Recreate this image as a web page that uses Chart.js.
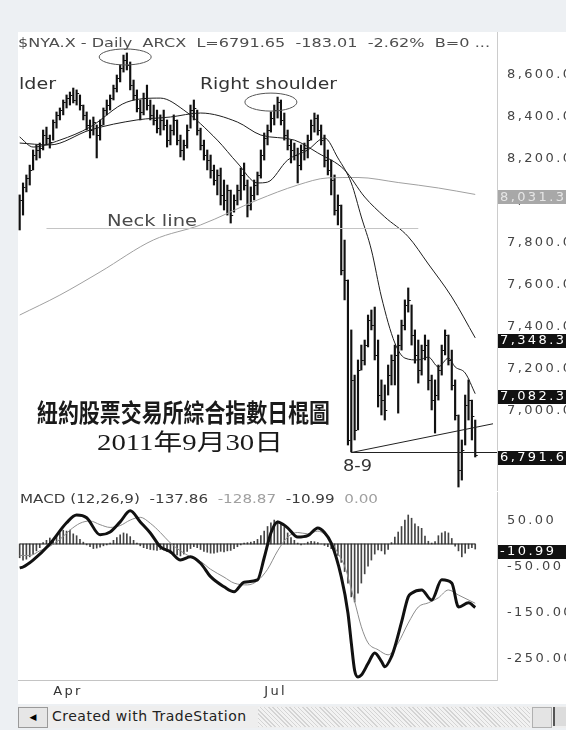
<!DOCTYPE html>
<html lang="zh-Hant">
<head>
<meta charset="UTF-8">
<title>NYA Daily 2011</title>
<style>
  html, body { margin: 0; padding: 0; }
  body { width: 566px; height: 730px; background: #edf0f3; position: relative; overflow: hidden; font-family: 'DejaVu Sans', sans-serif; }
  .sheet { position: absolute; left: 18px; top: 32px; width: 548px; height: 672px; background: #fff; }
  .pane { position: absolute; left: 0; }
  #priceBox { top: 0; }
  #macdBox { top: 490px; }
  canvas { display: block; }
  .sb { position: absolute; left: 18px; top: 706px; width: 548px; height: 22px; background: #eeeeee; }
  .sb .btnL { position: absolute; left: 0; top: 1px; width: 28px; height: 19px; border: 1px solid #9a9a9a; background: #e6e6e6; font-size: 9px; line-height: 19px; text-align: center; color: #000; }
  .sb .cap { position: absolute; left: 34px; top: 2px; font-size: 14px; letter-spacing: 0.5px; color: #222; }
  .sb .track { position: absolute; left: 240px; top: 1px; width: 272px; height: 20px;
    background: repeating-linear-gradient(45deg, #d4d4d4 0 1px, #f2f2f2 1px 3px); }
  .sb .btnR { position: absolute; left: 514px; top: 1px; width: 18px; height: 19px; border: 1px solid #b0b0b0; background: #e4e4e4; }
  .sb .btnR2 { position: absolute; left: 535px; top: 1px; width: 13px; height: 19px; border-left: 2px solid #555; background: #dcdcdc; }
</style>
</head>
<body>
<div class="sheet"></div>
<div class="pane" id="priceBox"><canvas id="price" width="566" height="492"></canvas></div>
<div class="pane" id="macdBox"><canvas id="macd" width="566" height="212"></canvas></div>
<div class="sb">
  <div class="btnL">&#9664;</div>
  <div class="cap">Created with TradeStation</div>
  <div class="track"></div>
  <div class="btnR"></div>
  <div class="btnR2"></div>
</div>

<script src="https://cdn.jsdelivr.net/npm/chart.js"></script>
<script>
// trading days, 18 Mar - 30 Sep 2011
const dates = [
  '03-18','03-21','03-22','03-23','03-24','03-25','03-28','03-29','03-30','03-31',
  '04-01','04-04','04-05','04-06','04-07','04-08','04-11','04-12','04-13','04-14','04-15','04-18','04-19','04-20','04-21','04-25','04-26','04-27','04-28','04-29',
  '05-02','05-03','05-04','05-05','05-06','05-09','05-10','05-11','05-12','05-13','05-16','05-17','05-18','05-19','05-20','05-23','05-24','05-25','05-26','05-27','05-31',
  '06-01','06-02','06-03','06-06','06-07','06-08','06-09','06-10','06-13','06-14','06-15','06-16','06-17','06-20','06-21','06-22','06-23','06-24','06-27','06-28','06-29','06-30',
  '07-01','07-05','07-06','07-07','07-08','07-11','07-12','07-13','07-14','07-15','07-18','07-19','07-20','07-21','07-22','07-25','07-26','07-27','07-28','07-29',
  '08-01','08-02','08-03','08-04','08-05','08-08','08-09','08-10','08-11','08-12','08-15','08-16','08-17','08-18','08-19','08-22','08-23','08-24','08-25','08-26','08-29','08-30','08-31',
  '09-01','09-02','09-06','09-07','09-08','09-09','09-12','09-13','09-14','09-15','09-16','09-19','09-20','09-21','09-22','09-23','09-26','09-27','09-28','09-29','09-30'
];
// empty space to the right of the last bar
const blankDates = ['10-03','10-04','10-05','10-06','10-07','10-10'];
const tickDates = ['04-01', '07-01'];
const tickNames = ['Apr', 'Jul'];

const highs = [
  8029,8086,8124,8171,8243,8267,8276,8338,8352,8314,
  8386,8424,8443,8481,8505,8519,8538,8529,8505,8457,
  8424,8386,8400,8362,8386,8443,8481,8505,8552,8600,
  8648,8695,8705,8662,8576,8529,8481,8514,8552,8481,
  8457,8433,8410,8433,8386,8362,8410,8386,8314,8290,
  8362,8457,8481,8433,8347,8290,8243,8219,8171,8148,
  8157,8100,8076,8052,8029,8076,8157,8181,8100,8067,
  8100,8138,8243,8324,8362,8424,8457,8495,8481,8419,
  8338,8290,8276,8252,8267,8276,8314,8386,8419,8410,
  8362,8314,8243,8195,8124,8029,7981,7814,7624,7386,
  7171,7243,7314,7338,7457,7481,7495,7338,7148,7124,
  7219,7267,7314,7362,7433,7529,7586,7505,7386,7338,
  7314,7362,7338,7171,7148,7219,7314,7386,7362,7290,
  7148,6981,6862,7076,7148,7052,6957
];
const lows = [
  7862,7933,8043,8076,8148,8195,8205,8243,8267,8252,
  8290,8347,8386,8410,8443,8457,8467,8457,8433,8386,
  8338,8300,8314,8205,8290,8362,8410,8433,8481,8519,
  8567,8614,8624,8529,8481,8424,8386,8410,8433,8386,
  8362,8324,8314,8338,8257,8267,8314,8267,8210,8195,
  8252,8347,8386,8314,8243,8195,8148,8109,8076,8029,
  7981,7957,7933,7895,7947,7981,8005,8052,7924,7957,
  8005,8029,8109,8195,8267,8328,8362,8395,8362,8290,
  8243,8181,8195,8086,8148,8195,8205,8290,8328,8314,
  8267,8162,8124,8029,7933,7886,7648,7529,6838,6805,
  6862,6910,7195,7219,7305,7386,7243,7019,6981,6957,
  7076,7124,7124,6990,7290,7386,7471,7314,7228,7133,
  7171,7243,7100,7005,6895,7052,7171,7267,7219,7100,
  6957,6638,6671,6838,6957,6862,6781
];
const closes = [
  8005,8067,8109,8148,8219,8243,8252,8314,8300,8281,
  8376,8410,8433,8471,8490,8505,8481,8514,8457,8410,
  8362,8338,8376,8314,8362,8433,8457,8490,8538,8586,
  8633,8671,8648,8552,8505,8443,8424,8490,8457,8410,
  8386,8347,8386,8362,8290,8338,8386,8290,8243,8267,
  8338,8433,8443,8338,8267,8219,8195,8148,8100,8124,
  8029,8005,8052,7933,8005,8052,8124,8076,7981,8029,
  8076,8124,8219,8300,8338,8395,8433,8471,8386,8314,
  8267,8243,8219,8171,8243,8252,8290,8362,8395,8338,
  8290,8195,8148,8100,7957,7981,7671,7624,6862,7148,
  6910,7195,7243,7314,7433,7410,7267,7076,7052,7005,
  7171,7243,7267,7314,7410,7505,7529,7362,7267,7195,
  7290,7314,7148,7052,7076,7195,7290,7362,7243,7124,
  6981,6719,6814,7028,7052,6975,6791.65
];

// moving averages: [bar index, value]
const maFastPts = [[0,8305],[4,8257],[12,8290],[21,8352],[32,8471],[42,8490],[49,8433],[59,8290],[65,8181],[71,8086],[74,8090],[80,8195],[86,8243],[91,8300],[95,8205],[99,8086],[102,7924],[105,7767],[108,7543],[112,7324],[115,7252],[119,7243],[122,7257],[125,7210],[128,7252],[130,7210],[133,7181],[136,7082.3]];
const maMidPts = [[0,8276],[9,8267],[21,8338],[35,8386],[45,8400],[54,8419],[65,8376],[72,8314],[82,8290],[89,8229],[97,8148],[103,8019],[109,7924],[116,7830],[122,7700],[129,7543],[136,7348.3]];
const maSlowPts = [[0,7457],[12,7552],[24,7662],[40,7815],[54,7886],[71,8005],[83,8076],[92,8110],[101,8112],[113,8088],[125,8062],[136,8031.3]];

const macdPts = [[0,-52],[1,-50],[4,-35],[9,0],[14,46],[17,63],[20,57],[24,20],[27,26],[30,48],[33,72],[36,48],[39,24],[42,-6],[45,-17],[48,-35],[51,-28],[54,-42],[57,-71],[61,-93],[64,-104],[67,-83],[71,-78],[73,-30],[75,24],[77,48],[80,35],[83,15],[86,18],[89,35],[91,25],[93,2],[96,-71],[98,-150],[99,-215],[100,-275],[101,-289],[102,-285],[104,-260],[106,-237],[108,-255],[109,-267],[111,-245],[112,-224],[114,-170],[116,-115],[117,-107],[120,-100],[123,-122],[126,-78],[129,-85],[131,-137],[134,-128],[136,-137.86]];
const signalPts = [[0,-25],[3,-25],[6,-15],[9,-5],[12,10],[15,30],[18,45],[21,50],[24,42],[27,36],[30,40],[33,52],[36,58],[39,45],[42,25],[45,2],[48,-15],[51,-28],[54,-38],[57,-55],[61,-72],[64,-85],[68,-89],[71,-80],[74,-55],[77,-15],[80,15],[83,25],[86,22],[89,28],[93,5],[95,-20],[97,-48],[100,-125],[102,-180],[104,-215],[107,-230],[110,-241],[113,-215],[116,-172],[119,-137],[122,-128],[125,-117],[128,-100],[131,-111],[136,-128.87]];
const hist = [
  -30,-35,-33,-28,-22,-15,-8,3,8,13,
  10,18,24,30,28,30,22,18,10,4,
  -2,-6,-10,-9,-7,-4,-2,2,8,14,
  20,24,22,16,8,2,-4,-8,-10,-12,
  -13,-14,-12,-13,-16,-20,-22,-24,-26,-22,
  -16,-10,-6,-8,-12,-16,-18,-20,-20,-18,
  -16,-17,-15,-14,-10,-6,-2,2,3,4,
  6,10,18,28,38,46,52,50,44,36,
  24,14,8,2,-2,0,4,6,5,3,
  0,-3,-6,-10,-16,-25,-40,-60,-85,-115,
  -126,-107,-85,-65,-48,-35,-22,-13,-15,-22,
  -12,3,15,26,38,52,63,56,44,38,
  34,17,6,2,5,18,24,27,24,12,
  -5,-15,-28,-20,-10,-8,-10.99
];

const priceTicks = [7000, 7200, 7400, 7600, 7800, 8000, 8200, 8400, 8600];
const macdTicks = [-250, -150, -50, 50];
const priceBadges = [[8031.3, '#a8a8a8', '#e6e6e6'], [7348.3, '#111', '#fff'], [7082.3, '#111', '#fff'], [6791.65, '#111', '#fff']];
const macdBadges = [[-10.99, '#111', '#fff']];
const macdTitle = [['MACD (12,26,9)  -137.86  ', '#3c3c3c'], ['-128.87  ', '#a0a0a0'], ['-10.99  ', '#3c3c3c'], ['0.00', '#a0a0a0']];

const labels = dates.concat(blankDates);
const pts = arr => arr.map(([i, v]) => ({ x: labels[i], y: v }));
const fmt = v => v.toLocaleString('en-US', { minimumFractionDigits: 2, maximumFractionDigits: 2 });
const axisFont = { family: 'DejaVu Sans', size: 13 };
const SPACING = '2.4px';

const wideText = {
  id: 'wideText',
  beforeUpdate(c) { c.ctx.letterSpacing = SPACING; },
  beforeDraw(c) { c.ctx.letterSpacing = SPACING; }
};

// draws text squeezed/stretched to a given width
function fitText(ctx, text, x, y, w, font, color) {
  ctx.save();
  ctx.letterSpacing = '0px';
  ctx.font = font;
  ctx.fillStyle = color;
  ctx.textBaseline = 'middle';
  const k = w / ctx.measureText(text).width;
  ctx.translate(x, y);
  ctx.scale(k, 1);
  ctx.fillText(text, 0, 0);
  ctx.restore();
}

function fitSegments(ctx, segs, x, y, w, font) {
  ctx.save();
  ctx.letterSpacing = '0px';
  ctx.font = font;
  ctx.textBaseline = 'middle';
  const k = w / ctx.measureText(segs.map(s => s[0]).join('')).width;
  let off = 0;
  segs.forEach(([t, c]) => {
    ctx.save();
    ctx.translate(x + off * k, y);
    ctx.scale(k, 1);
    ctx.fillStyle = c;
    ctx.fillText(t, 0, 0);
    ctx.restore();
    off += ctx.measureText(t).width;
  });
  ctx.restore();
}

function drawBadges(chart, list) {
  const { ctx, chartArea: a, scales: { y } } = chart;
  ctx.save();
  ctx.font = "13px 'DejaVu Sans'";
  ctx.letterSpacing = SPACING;
  ctx.textBaseline = 'middle';
  list.forEach(([v, bg, fg]) => {
    const py = y.getPixelForValue(v) + 3;
    ctx.fillStyle = bg;
    ctx.fillRect(a.right + 1, Math.round(py - 7), 80, 14);
    ctx.fillStyle = fg;
    ctx.fillText(fmt(v), a.right + 3, py);
  });
  ctx.restore();
}

function xAxis(show) {
  return {
    type: 'category', offset: true, display: show,
    grid: { display: false, drawTicks: false },
    border: { display: show, color: '#c4c4c4' },
    ticks: {
      autoSkip: false, maxRotation: 0, minRotation: 0, align: 'start', padding: 4,
      color: '#333', font: axisFont,
      callback(v) { const k = tickDates.indexOf(this.getLabelForValue(v)); return k < 0 ? '' : tickNames[k]; }
    },
    afterFit(s) {
      s.paddingLeft = 0; s.paddingRight = 0;
      if (show) s.height = 22;
    }
  };
}

function yAxis(min, max, ticks) {
  return {
    position: 'right', min, max,
    grid: { display: false, drawTicks: false },
    border: { display: true, color: '#cccccc' },
    afterBuildTicks(s) { s.ticks = ticks.map(v => ({ value: v })); },
    ticks: { padding: 10, color: '#444', font: axisFont, callback: v => fmt(v) },
    afterFit(s) { s.width = 69; s.paddingTop = 0; s.paddingBottom = 0; }
  };
}

const lineStyle = { pointRadius: 0, fill: false, tension: 0.4, cubicInterpolationMode: 'monotone' };

const priceMarks = {
  id: 'priceMarks',
  afterDatasetsDraw(chart) {
    const { ctx, chartArea: a, scales: { x, y } } = chart;
    ctx.save();
    // close ticks
    ctx.strokeStyle = '#111';
    ctx.lineWidth = 1;
    ctx.beginPath();
    closes.forEach((c, i) => {
      const px = x.getPixelForValue(i) + 0.5;
      const py = Math.round(y.getPixelForValue(c)) + 0.5;
      ctx.moveTo(px, py); ctx.lineTo(px + 2, py);
    });
    ctx.stroke();
    // neck line
    ctx.strokeStyle = '#c4c4c4';
    ctx.beginPath();
    const ny = Math.round(y.getPixelForValue(7871)) + 0.5;
    ctx.moveTo(x.getPixelForValue(8), ny); ctx.lineTo(x.getPixelForValue(119), ny);
    ctx.stroke();
    // support from the 8-9 low
    ctx.strokeStyle = '#222';
    ctx.beginPath();
    const sy = Math.round(y.getPixelForValue(6805)) + 0.5;
    const sx = x.getPixelForValue(99);
    ctx.moveTo(sx, sy); ctx.lineTo(a.right, sy);
    const ex = a.right - 4;
    const ty = y.getPixelForValue(6922);
    const tx = x.getPixelForValue(136);
    ctx.moveTo(sx, sy); ctx.lineTo(ex, sy + (ty - sy) * (ex - sx) / (tx - sx));
    ctx.stroke();
    // ellipses round head and right shoulder
    ctx.strokeStyle = '#555';
    [[31.5, 8686, 26, 8], [75, 8471, 26, 9]].forEach(([i, v, rx, ry]) => {
      ctx.beginPath();
      ctx.ellipse(x.getPixelForValue(i), y.getPixelForValue(v), rx, ry, 0, 0, Math.PI * 2);
      ctx.stroke();
    });
    ctx.restore();
  },
  afterDraw(chart) {
    const { ctx } = chart;
    fitText(ctx, '$NYA.X - Daily  ARCX  L=6791.65  -183.01  -2.62%  B=0 ...', 18, 44, 472, "12px 'DejaVu Sans'", '#4e4e4e');
    fitText(ctx, 'Right shoulder', 200, 85, 137, "15px 'DejaVu Sans'", '#333');
    fitText(ctx, 'lder', 19, 85, 37, "15px 'DejaVu Sans'", '#333');
    fitText(ctx, 'Neck line', 107, 222, 90, "15px 'DejaVu Sans'", '#4a4a4a');
    fitText(ctx, '8-9', 343, 467, 29, "15px 'DejaVu Sans'", '#333');
    fitText(ctx, '紐約股票交易所綜合指數日棍圖', 37, 412, 293, "bold 25px 'Noto Sans CJK TC'", '#1a1a1a');
    fitText(ctx, '2011年9月30日', 97, 444, 186, "23px 'Liberation Serif', 'Noto Sans CJK TC'", '#1a1a1a');
    drawBadges(chart, priceBadges);
  }
};

const macdMarks = {
  id: 'macdMarks',
  afterDraw(chart) {
    fitSegments(chart.ctx, macdTitle, 20, 10, 358, "12px 'DejaVu Sans'");
    drawBadges(chart, macdBadges);
  }
};

new Chart(document.getElementById('price'), {
  type: 'bar',
  data: {
    labels,
    datasets: [
      { type: 'line', data: pts(maFastPts), borderColor: '#1e1e1e', borderWidth: 1, order: 1, ...lineStyle },
      { type: 'line', data: pts(maMidPts), borderColor: '#1e1e1e', borderWidth: 1, order: 1, ...lineStyle },
      { type: 'line', data: pts(maSlowPts), borderColor: '#a0a0a0', borderWidth: 1, order: 1, ...lineStyle },
      { type: 'bar', data: lows.map((l, i) => [l, highs[i]]), backgroundColor: '#111', barThickness: 1.5, order: 2 }
    ]
  },
  options: {
    responsive: false, animation: false, devicePixelRatio: 1,
    layout: { padding: { left: 18, top: 32, right: 0, bottom: 2 } },
    plugins: { legend: { display: false }, tooltip: { enabled: false } },
    scales: { x: xAxis(false), y: yAxis(6623.8, 8804.8, priceTicks) }
  },
  plugins: [wideText, priceMarks]
});

new Chart(document.getElementById('macd'), {
  type: 'bar',
  data: {
    labels,
    datasets: [
      { type: 'line', data: pts(macdPts), borderColor: '#111', borderWidth: 3, order: 1, ...lineStyle },
      { type: 'line', data: pts(signalPts), borderColor: '#8c8c8c', borderWidth: 1, order: 2, ...lineStyle },
      { type: 'line', data: [{ x: dates[0], y: 0 }, { x: dates[dates.length - 1], y: 0 }], borderColor: '#222', borderWidth: 1, pointRadius: 0, order: 3 },
      { type: 'bar', data: hist, backgroundColor: '#444', barThickness: 1, order: 4 }
    ]
  },
  options: {
    responsive: false, animation: false, devicePixelRatio: 1,
    layout: { padding: { left: 18, top: 2, right: 0, bottom: 0 } },
    plugins: { legend: { display: false }, tooltip: { enabled: false } },
    scales: { x: xAxis(true), y: yAxis(-295.7, 113, macdTicks) }
  },
  plugins: [wideText, macdMarks]
});
</script>
</body>
</html>
